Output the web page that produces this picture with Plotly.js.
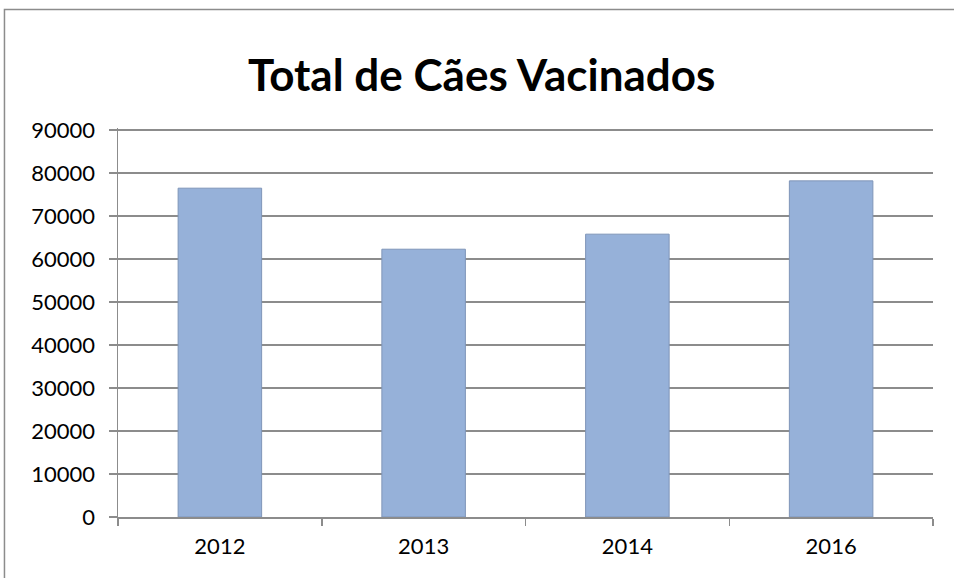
<!DOCTYPE html>
<html>
<head>
<meta charset="utf-8">
<script src="https://cdn.plot.ly/plotly-3.0.1.min.js"></script>
<style>html,body{margin:0;padding:0;background:#fff;}#chart{width:954px;height:578px;}</style>
</head>
<body>
<div id="chart"></div>
<script>
var years = ['2012', '2013', '2014', '2016'];
var vacinados = [76500, 62300, 65800, 78200];
var yTicks = [0, 10000, 20000, 30000, 40000, 50000, 60000, 70000, 80000, 90000];
var chartTitle = 'Total de Cães Vacinados';

var trace = {
  type: 'bar',
  x: years,
  y: vacinados,
  marker: {color: '#96b1d9', line: {color: '#7f95b8', width: 1}},
  hoverinfo: 'x+y'
};

var layout = {
  width: 954, height: 578,
  margin: {l: 118, r: 21, t: 128, b: 61},
  paper_bgcolor: '#ffffff', plot_bgcolor: '#ffffff',
  bargap: 0.59,
  showlegend: false,
  font: {family: 'Lato, "Liberation Sans", sans-serif', size: 22, color: '#000'},
  title: {text: '<b>' + chartTitle + '</b>', x: 0.505, xanchor: 'center', y: 0.87, yanchor: 'middle',
          font: {family: 'Lato, "Liberation Sans", sans-serif', size: 44, color: '#000'}},
  xaxis: {type: 'category', showgrid: false, showline: true, linecolor: '#8c8c8c', linewidth: 1.5,
          ticks: 'outside', tickson: 'boundaries', ticklen: 7, tickcolor: '#8c8c8c', tickwidth: 1.5,
          ticklabelstandoff: 9, tickfont: {size: 22}, zeroline: false},
  yaxis: {range: [0, 90500], tickvals: yTicks, ticktext: yTicks.map(String),
          showgrid: true, gridcolor: '#8c8c8c', gridwidth: 1.5,
          showline: true, linecolor: '#8c8c8c', linewidth: 1.5,
          ticks: 'outside', ticklen: 8, tickcolor: '#8c8c8c', tickwidth: 1.5,
          ticklabelstandoff: 9, tickfont: {size: 22}, zeroline: false},
  shapes: [{type: 'rect', xref: 'paper', yref: 'paper', x0: -0.1393, x1: 1.2, y0: -0.4, y1: 1.3046,
            line: {color: '#8c8c8c', width: 1.5}, fillcolor: 'rgba(0,0,0,0)', layer: 'below'}]
};

Plotly.newPlot('chart', [trace], layout, {displayModeBar: false, staticPlot: true});
</script>
</body>
</html>
